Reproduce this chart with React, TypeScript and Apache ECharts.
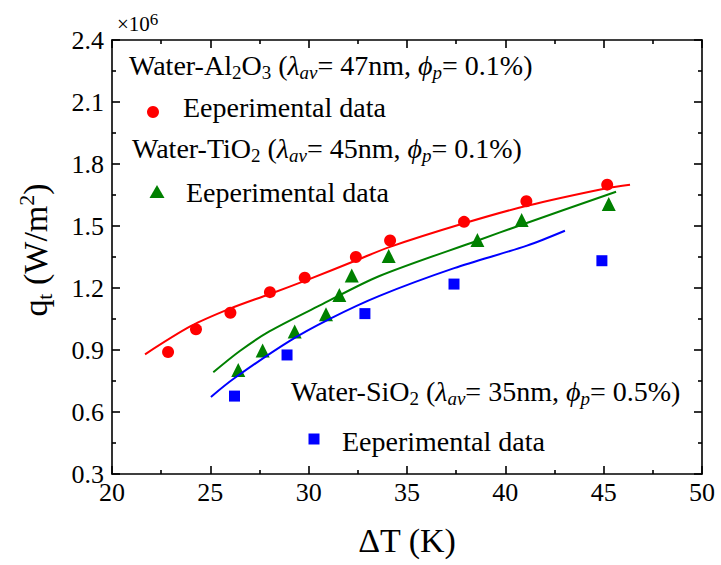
import React, { useEffect, useRef } from "react";
import * as echarts from "echarts";

// Experimental data (ΔT in K, q_t in 10^6 W/m²)
const al2o3X = [22.85, 24.27, 26.02, 28.03, 29.8, 32.4, 34.14, 37.9, 41.07, 45.18];
const al2o3Y = [0.89, 1.0, 1.08, 1.18, 1.25, 1.35, 1.43, 1.52, 1.62, 1.7];
const tio2X = [26.42, 27.66, 29.29, 30.88, 31.56, 32.19, 34.07, 38.58, 40.83, 45.26];
const tio2Y = [0.803, 0.897, 0.989, 1.073, 1.166, 1.26, 1.355, 1.432, 1.529, 1.606];
const sio2X = [26.23, 28.9, 32.86, 37.39, 44.91];
const sio2Y = [0.677, 0.876, 1.076, 1.219, 1.332];

// Model curves
const al2o3FitX = [21.68, 24.0, 26.0, 28.0, 30.0, 32.4, 34.1, 37.9, 41.1, 45.15, 46.34];
const al2o3FitY = [0.879, 1.015, 1.1, 1.17, 1.242, 1.333, 1.398, 1.513, 1.598, 1.683, 1.7];
const tio2FitX = [25.15, 26.5, 28.0, 30.7, 33.6, 38.6, 40.8, 45.63];
const tio2FitY = [0.792, 0.895, 0.99, 1.122, 1.258, 1.43, 1.505, 1.666];
const sio2FitX = [25.03, 26.2, 29.0, 31.1, 33.6, 37.4, 41.1, 43.03];
const sio2FitY = [0.673, 0.762, 0.942, 1.052, 1.162, 1.296, 1.405, 1.477];

// Axes and tick labels
const xMin = 20, xMax = 50, xStep = 5;
const yMin = 0.3, yMax = 2.4, yStep = 0.3;
const xTickLabels = ["20", "25", "30", "35", "40", "45", "50"];
const yTickLabels = ["0.3", "0.6", "0.9", "1.2", "1.5", "1.8", "2.1", "2.4"];

const zip = (xs: number[], ys: number[]) => xs.map((x, i) => [x, ys[i]]);

const FONT = "Liberation Serif";
const RED = "#ff0000";
const GREEN = "#008000";
const BLUE = "#0000ff";

const LS = 28;
const legendRich = {
  n: { fontSize: LS, fontFamily: FONT, color: "#000", lineHeight: 34 },
  i: { fontSize: LS, fontFamily: FONT, fontStyle: "italic", color: "#000", lineHeight: 34 },
  s: { fontSize: 19, fontFamily: FONT, color: "#000", lineHeight: 12, verticalAlign: "bottom" },
  si: { fontSize: 19, fontFamily: FONT, fontStyle: "italic", color: "#000", lineHeight: 12, verticalAlign: "bottom" },
};

function labelFor(parts: Array<[string, string]>) {
  return parts.map(([s, t]) => `{${s}|${t}}`).join("");
}

const al2o3Label = labelFor([
  ["n", "Water-Al"], ["s", "2"], ["n", "O"], ["s", "3"], ["n", " ("], ["i", "λ"], ["si", "av"],
  ["n", "= 47nm, "], ["i", "ϕ"], ["si", "p"], ["n", "= 0.1%)"],
]);
const tio2Label = labelFor([
  ["n", "Water-TiO"], ["s", "2"], ["n", " ("], ["i", "λ"], ["si", "av"],
  ["n", "= 45nm, "], ["i", "ϕ"], ["si", "p"], ["n", "= 0.1%)"],
]);
const sio2Label = labelFor([
  ["n", "Water-SiO"], ["s", "2"], ["n", " ("], ["i", "λ"], ["si", "av"],
  ["n", "= 35nm, "], ["i", "ϕ"], ["si", "p"], ["n", "= 0.5%)"],
]);
const expLabel = "{n|Eeperimental data}";
const yTitle = "{q|q}{qs|t}{q| (W/m}{sp|2}{q|)}";
const xTitle = "{a|ΔT (K)}";

function textEl(x: number, y: number, text: string) {
  return {
    type: "text",
    x,
    y,
    silent: true,
    style: {
      text,
      rich: legendRich,
      fill: "#000",
      fontSize: LS,
      fontFamily: FONT,
      align: "left",
      verticalAlign: "middle",
    },
  };
}

const tickRich = { t: { fontSize: 26, fontFamily: FONT, color: "#000", lineHeight: 30 } };

export default function App() {
  const ref = useRef<HTMLDivElement>(null);
  useEffect(() => {
    if (!ref.current) return;
    const chart = echarts.init(ref.current, null, { renderer: "svg" });
    const axisLine = { show: true, lineStyle: { color: "#000", width: 1.6 } };
    const tick = { show: true, inside: true, length: 8, lineStyle: { color: "#000", width: 1.6 } };
    const minor = { show: true, splitNumber: 2, length: 4, lineStyle: { color: "#000", width: 1.6 } };
    const baseGraphics: any[] = [
      {
        type: "text", x: 117, y: 24, silent: true,
        style: {
          text: "{a|×10}{b|6}",
          fontSize: 21, fontFamily: FONT, fill: "#000",
          rich: {
            a: { fontSize: 21, fontFamily: FONT, color: "#000", lineHeight: 26 },
            b: { fontSize: 17, fontFamily: FONT, color: "#000", lineHeight: 14, verticalAlign: "top" },
          },
          align: "left", verticalAlign: "middle",
        },
      },
      textEl(129, 65, al2o3Label),
      textEl(183, 107, expLabel),
      textEl(132, 148, tio2Label),
      textEl(186, 192, expLabel),
      textEl(291, 391, sio2Label),
      textEl(342, 441, expLabel),
      { type: "circle", shape: { cx: 153, cy: 112, r: 6 }, style: { fill: RED }, silent: true },
      {
        type: "polygon", silent: true,
        shape: { points: [[157, 185], [149.5, 198], [164.5, 198]] },
        style: { fill: GREEN },
      },
      { type: "rect", shape: { x: 308.5, y: 433.5, width: 11, height: 11 }, style: { fill: BLUE }, silent: true },
      {
        type: "text", x: 407, y: 540, silent: true,
        style: {
          text: xTitle, fontSize: 34, fontFamily: FONT, fill: "#000", align: "center", verticalAlign: "middle",
          rich: { a: { fontSize: 34, fontFamily: FONT, color: "#000", lineHeight: 40 } },
        },
      },
      {
        type: "text", x: 35, y: 250, rotation: Math.PI / 2, silent: true,
        style: {
          text: yTitle, fontSize: 34, fontFamily: FONT, fill: "#000", align: "center", verticalAlign: "middle",
          rich: {
            q: { fontSize: 34, fontFamily: FONT, color: "#000", lineHeight: 40 },
            qs: { fontSize: 22, fontFamily: FONT, color: "#000", lineHeight: 14, verticalAlign: "bottom" },
            sp: { fontSize: 22, fontFamily: FONT, color: "#000", lineHeight: 14, verticalAlign: "top" },
          },
        },
      },
    ];
    chart.setOption({
      animation: false,
      backgroundColor: "#fff",
      textStyle: { fontFamily: FONT },
      grid: { left: 112, top: 40, width: 590, height: 434, containLabel: false },
      xAxis: [
        {
          type: "value", min: xMin, max: xMax, interval: xStep, position: "bottom",
          axisLine, axisTick: tick, minorTick: minor, splitLine: { show: false },
          axisLabel: { show: false },
        },
        {
          type: "value", min: xMin, max: xMax, interval: xStep, position: "top",
          axisLine, axisTick: tick, minorTick: minor, splitLine: { show: false },
          axisLabel: { show: false },
        },
      ],
      yAxis: [
        {
          type: "value", min: yMin, max: yMax, interval: yStep, position: "left",
          axisLine, axisTick: tick, minorTick: minor, splitLine: { show: false },
          axisLabel: { show: false },
        },
        {
          type: "value", min: yMin, max: yMax, interval: yStep, position: "right",
          axisLine, axisTick: tick, minorTick: minor, splitLine: { show: false },
          axisLabel: { show: false },
        },
      ],
      graphic: baseGraphics,
      series: [
        {
          type: "line", data: zip(al2o3FitX, al2o3FitY), showSymbol: false, smooth: 0.3,
          lineStyle: { color: RED, width: 2 }, itemStyle: { color: RED },
        },
        {
          type: "line", data: zip(tio2FitX, tio2FitY), showSymbol: false, smooth: 0.3,
          lineStyle: { color: GREEN, width: 2 }, itemStyle: { color: GREEN },
        },
        {
          type: "line", data: zip(sio2FitX, sio2FitY), showSymbol: false, smooth: 0.3,
          lineStyle: { color: BLUE, width: 2 }, itemStyle: { color: BLUE },
        },
        {
          type: "scatter", data: zip(al2o3X, al2o3Y), symbol: "circle", symbolSize: 12,
          itemStyle: { color: RED, opacity: 1 },
        },
        {
          type: "scatter", data: zip(tio2X, tio2Y), symbol: "triangle", symbolSize: 14,
          itemStyle: { color: GREEN, opacity: 1 },
        },
        {
          type: "scatter", data: zip(sio2X, sio2Y), symbol: "rect", symbolSize: 11,
          itemStyle: { color: BLUE, opacity: 1 },
        },
      ],
    });

    // Tick labels placed through the axes' own scales
    const y0 = chart.convertToPixel({ yAxisIndex: 0 }, yMin) as number;
    const x0 = chart.convertToPixel({ xAxisIndex: 0 }, xMin) as number;
    const xLabelEls = xTickLabels.map((t) => ({
      type: "text", silent: true,
      x: chart.convertToPixel({ xAxisIndex: 0 }, parseFloat(t)) as number,
      y: y0 + 18,
      style: {
        text: `{t|${t}}`, rich: tickRich, fontSize: 26, fontFamily: FONT, fill: "#000",
        align: "center", verticalAlign: "middle",
      },
    }));
    const yLabelEls = yTickLabels.map((t) => ({
      type: "text", silent: true,
      x: x0 - 8,
      y: chart.convertToPixel({ yAxisIndex: 0 }, parseFloat(t)) as number,
      style: {
        text: `{t|${t}}`, rich: tickRich, fontSize: 26, fontFamily: FONT, fill: "#000",
        align: "right", verticalAlign: "middle",
      },
    }));
    chart.setOption({ graphic: [...baseGraphics, ...xLabelEls, ...yLabelEls] });

    return () => chart.dispose();
  }, []);
  return (
    <div
      ref={ref}
      style={{ position: "absolute", left: 0, top: 0, width: 721, height: 565 }}
    />
  );
}
